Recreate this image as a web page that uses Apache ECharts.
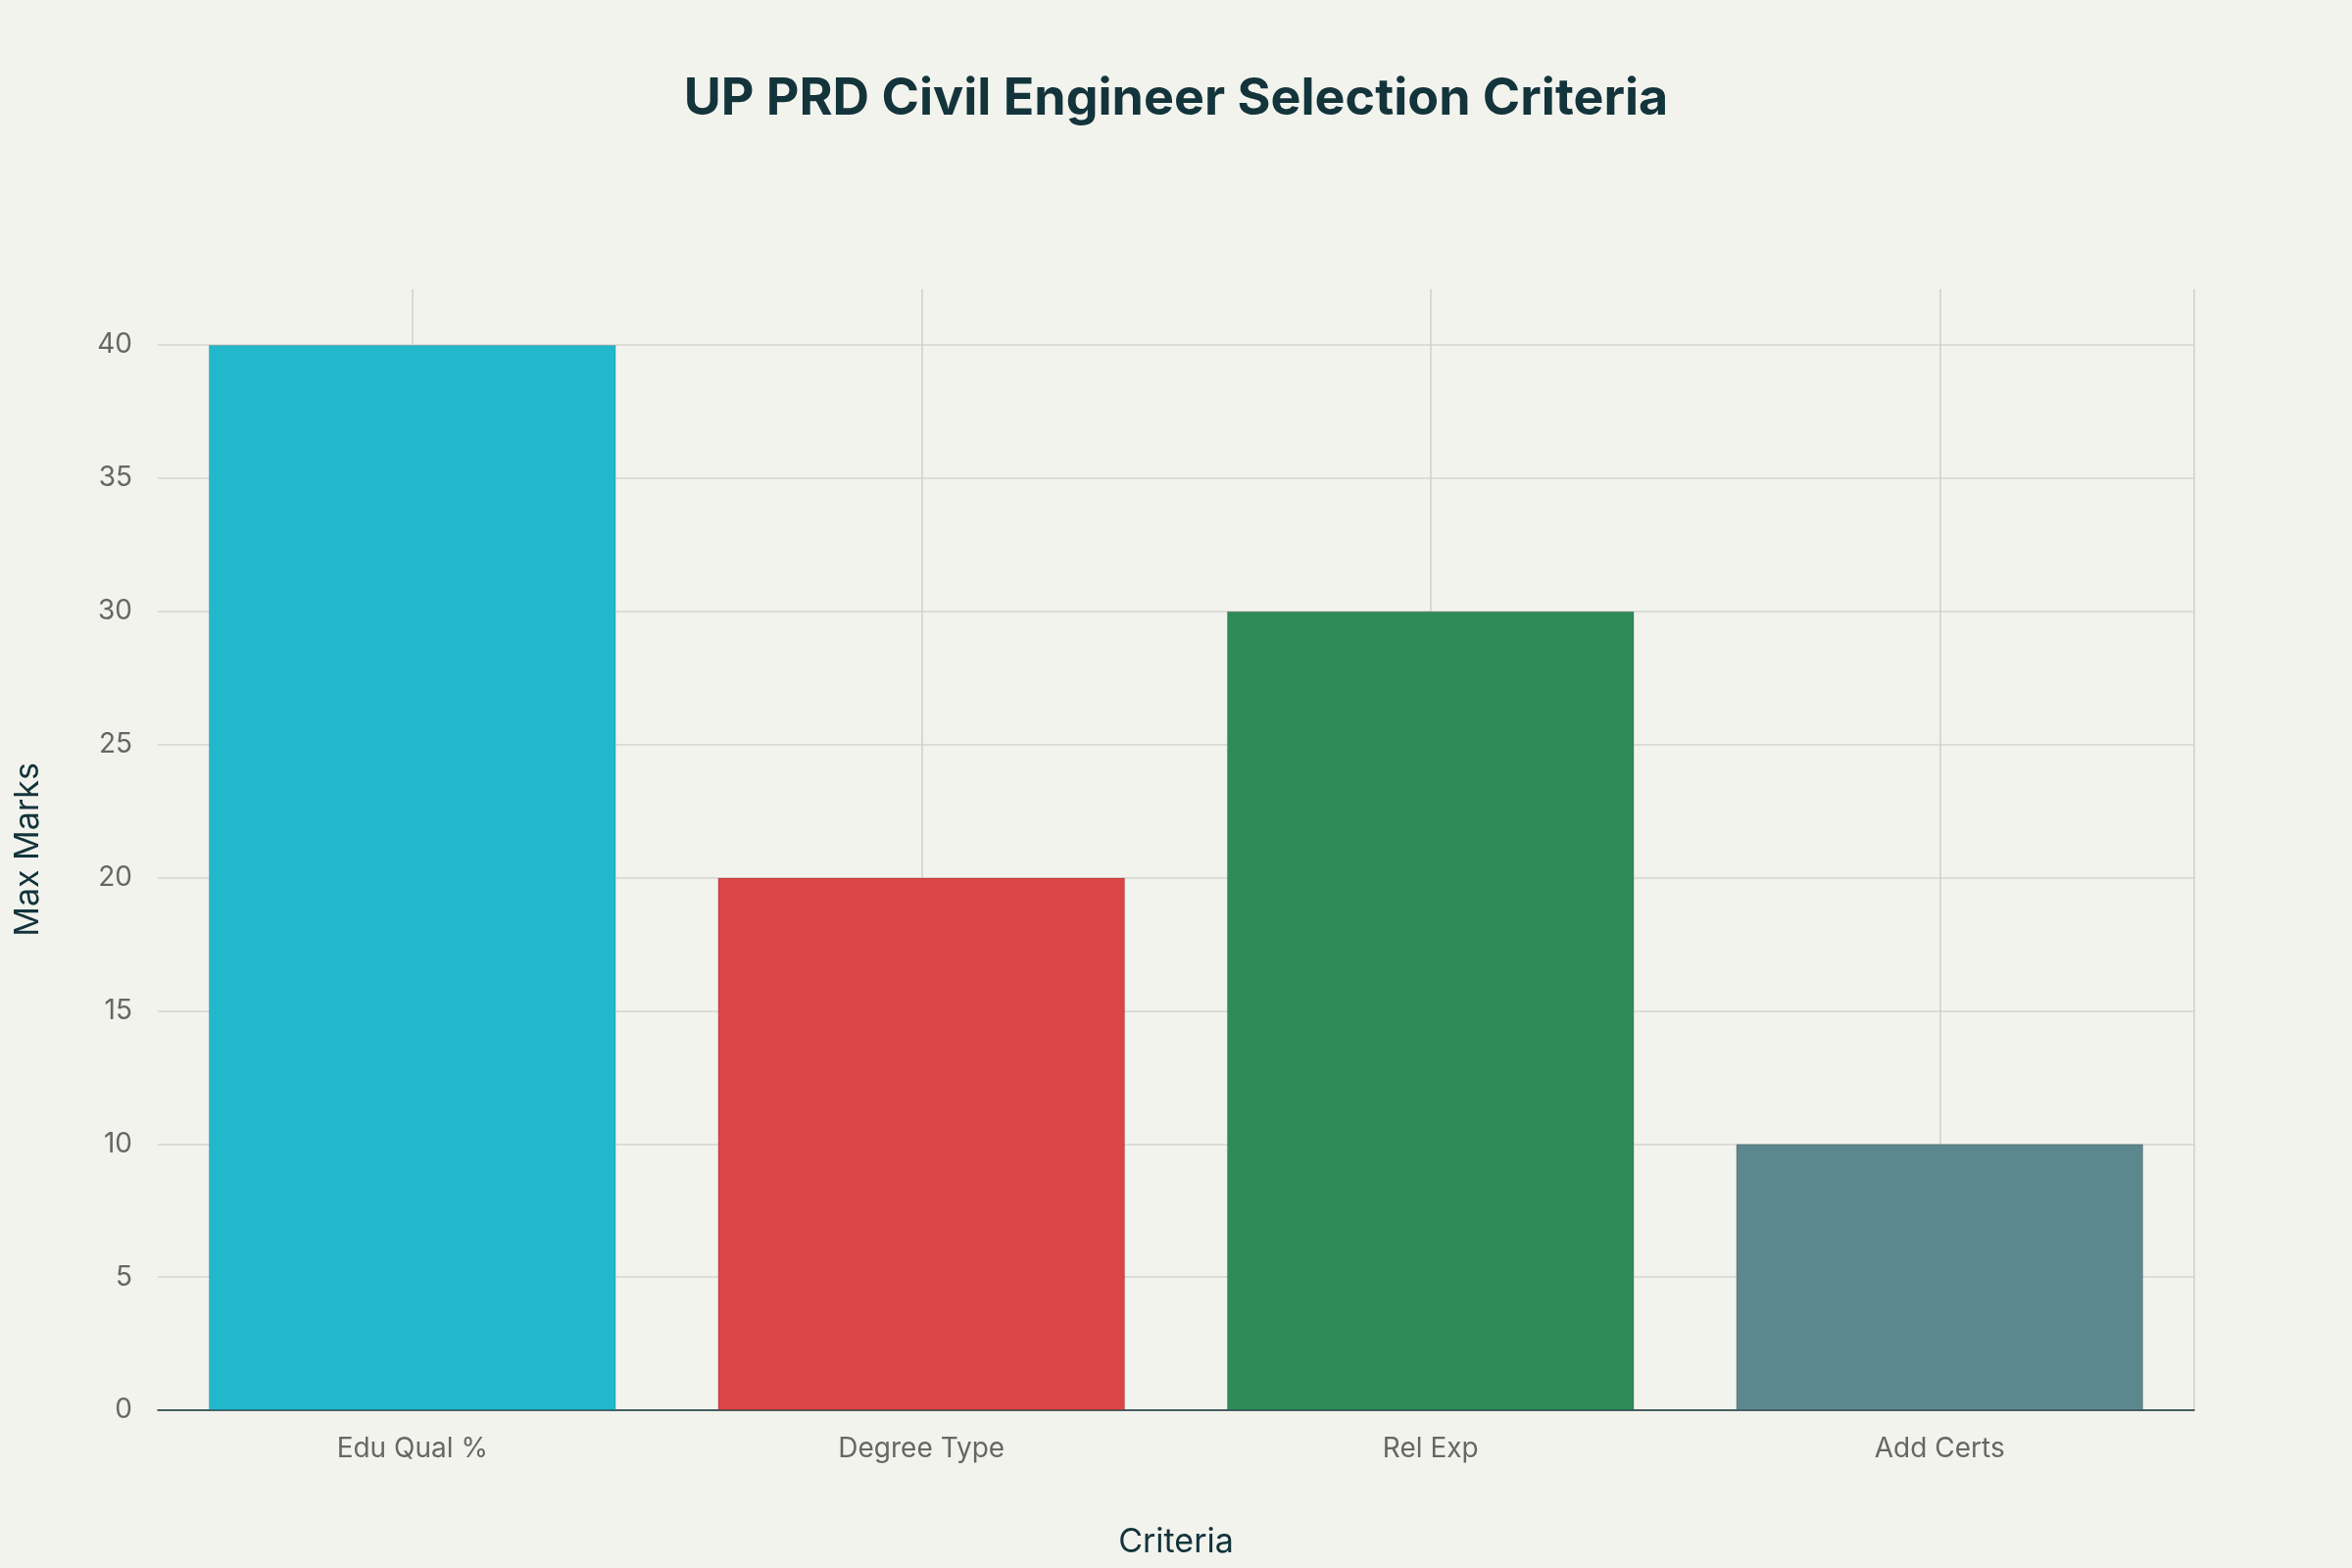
<!DOCTYPE html>
<html><head><meta charset="utf-8">
<script src="https://cdn.jsdelivr.net/npm/echarts@6/dist/echarts.min.js"></script>
<style>html,body{margin:0;background:#F3F3EE}#c{width:2400px;height:1600px}</style>
</head><body><div id="c"></div>
<script>
const categories = ['Edu Qual %', 'Degree Type', 'Rel Exp', 'Add Certs'];
const maxMarks = [40, 20, 30, 10];
const barColors = ['#21B8CB', '#DB4545', '#2E8B57', '#5D878F'];
const halfSteps = ['a','b','c','d','e','f','g','h'];
const font = 'Inter, "Noto Sans", sans-serif';
const chart = echarts.init(document.getElementById('c'));
const gridColors = ['#D6D6D1','#D6D6D1','#D6D6D1','#D6D6D1','#D6D6D1','#D6D6D1','#D6D6D1','#D6D6D1','#D6D6D1','rgba(0,0,0,0)'];
chart.setOption({
  backgroundColor: '#F3F3EE',
  textStyle: { fontFamily: font },
  title: { text: 'UP PRD Civil Engineer Selection Criteria', left: 'center', top: 70,
    textStyle: { fontFamily: font, fontSize: 52, fontWeight: 'bold', color: '#13343B' } },
  grid: { left: 161, right: 161, top: 295, bottom: 161 },
  xAxis: [{
    type: 'category', data: categories,
    name: 'Criteria', nameLocation: 'middle', nameGap: 118,
    nameTextStyle: { fontSize: 34, color: '#13343B', fontFamily: font },
    axisLine: { lineStyle: { color: '#13343B', width: 1.5 } },
    axisTick: { show: false },
    axisLabel: { fontSize: 28, color: '#666666', margin: 26, fontFamily: font },
    splitLine: { show: false }
  }, {
    type: 'category', data: halfSteps, position: 'bottom',
    axisLine: { show: false }, axisTick: { show: false }, axisLabel: { show: false },
    splitLine: { show: true, interval: (i) => i % 2 === 1, lineStyle: { color: '#D0D0CB', width: 1.5 } }
  }],
  yAxis: {
    type: 'value', min: 0, max: 42.1, interval: 5,
    name: 'Max Marks', nameLocation: 'middle', nameGap: 115,
    nameTextStyle: { fontSize: 34, color: '#13343B', fontFamily: font },
    axisLine: { show: false }, axisTick: { show: false },
    axisLabel: { fontSize: 28, color: '#666666', margin: 26, fontFamily: font,
      formatter: v => (v % 5 === 0 ? String(v) : '') },
    splitLine: { lineStyle: { color: gridColors, width: 1.5 } }
  },
  series: [{
    type: 'bar', xAxisIndex: 0, barWidth: '80%',
    data: maxMarks.map((v, i) => ({ value: v, itemStyle: { color: barColors[i] } })),
    itemStyle: { borderColor: 'rgba(0,0,0,0.15)', borderWidth: 1 }
  }]
});
</script></body></html>
